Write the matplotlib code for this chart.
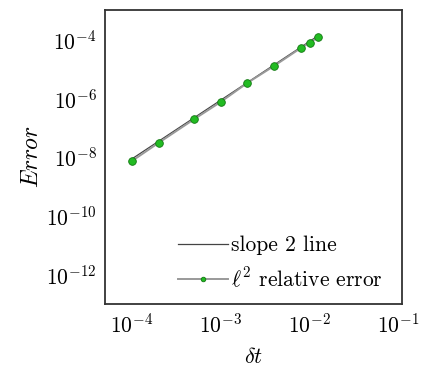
import numpy as np
import matplotlib
matplotlib.use("Agg")
import matplotlib.pyplot as plt

plt.rcParams['mathtext.fontset'] = 'cm'
plt.rcParams['font.family'] = ['cmr10', 'DejaVu Serif']
plt.rcParams['axes.formatter.use_mathtext'] = True

# time steps and measured l2 relative errors
dt = [1e-4, 2e-4, 5e-4, 1e-3, 2e-3, 4e-3, 8e-3, 1e-2, 1.25e-2]
err = [7.2e-9, 3.0e-8, 1.9e-7, 7.4e-7, 3.3e-6, 1.25e-5, 5.1e-5, 7.6e-5, 1.2e-4]

# reference line of slope 2
slope_const = 0.85
slope_dt = [1e-4, 1.25e-2]

fig = plt.figure(figsize=(4.22, 3.67), dpi=100)
ax = fig.add_axes([0.249, 0.172, 0.704, 0.801])

ax.loglog(slope_dt, [slope_const * t**2 for t in slope_dt], color='#444444',
          lw=0.9, label='slope 2 line')
ax.loglog(dt, err, color='#999999', lw=1.4, marker='o', ms=5.5,
          mfc='#22bb22', mec='#117711', mew=0.6, label=r'$\ell^2$ relative error')

ax.set_xlim(5e-5, 1.1e-1)
ax.set_ylim(1e-13, 1e-3)
ax.set_xticks([1e-4, 1e-3, 1e-2, 1e-1])
ax.set_yticks([1e-12, 1e-10, 1e-8, 1e-6, 1e-4])
ax.minorticks_off()
ax.tick_params(length=0, labelsize=15.5, pad=6)
for s in ax.spines.values():
    s.set_color('#333333')
    s.set_linewidth(1.3)

ax.set_xlabel(r'$\delta t$', fontsize=16, labelpad=8)
ax.set_ylabel(r'$Error$', fontsize=17, labelpad=2)

ax.legend(loc='lower right', bbox_to_anchor=(1.0, -0.02), frameon=False,
          fontsize=15.5, handlelength=2.3, handletextpad=0.15, labelspacing=0.5,
          markerscale=0.6)

fig.savefig("out.png", dpi=100)
